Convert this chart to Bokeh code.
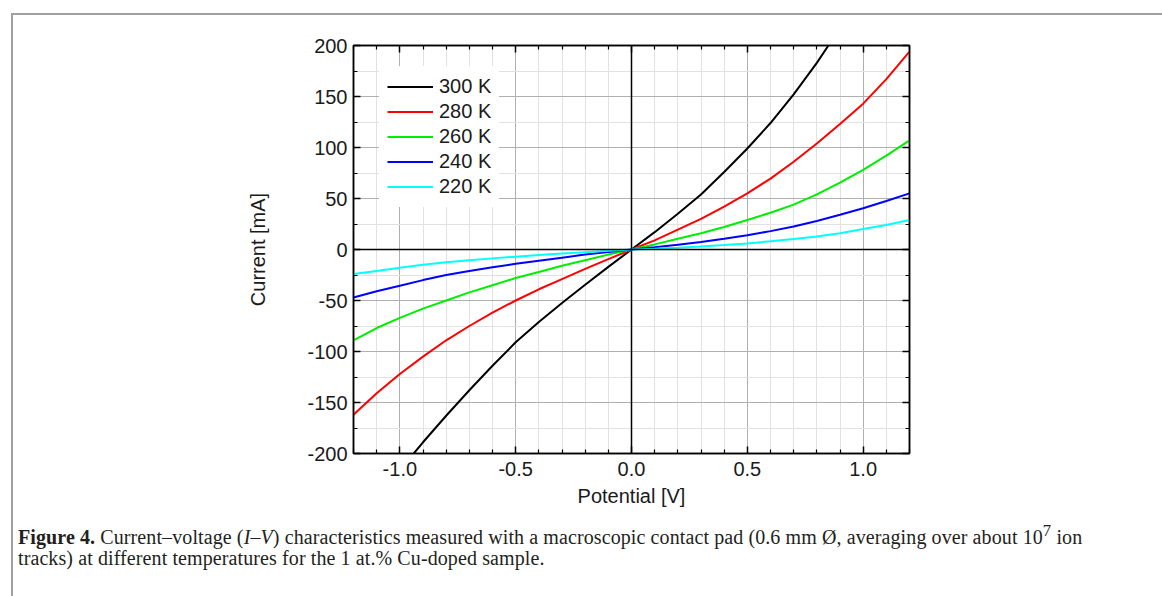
from bokeh.plotting import figure
from bokeh.models import (Range1d, LinearAxis, FixedTicker, Span, Div, Legend, LegendItem,
                          CustomJSTickFormatter)
from bokeh.layouts import column
from bokeh.embed import file_html
from bokeh.resources import INLINE

# ---------------- data ----------------
potential = [-1.2, -1.1, -1.0, -0.9, -0.8, -0.7, -0.6, -0.5, -0.4, -0.3, -0.2, -0.1, 0.0,
             0.1, 0.2, 0.3, 0.4, 0.5, 0.6, 0.7, 0.8, 0.9, 1.0, 1.1, 1.2]
i_280 = [-162, -141, -122, -105, -89, -75, -62, -50, -39, -29, -19, -9.5, 0,
         9, 19.5, 30, 42, 55, 69.5, 86, 104, 123, 143, 167, 194]
i_260 = [-89, -77, -67, -58, -50, -42, -35, -28, -22, -16, -10.5, -5, 0,
         5, 10.5, 16, 22, 29, 36, 44, 54, 65.5, 78, 92, 107]
i_240 = [-47, -41, -35.5, -30, -25, -21, -17.5, -14, -11, -8, -5, -2.5, 0,
         2.3, 4.7, 7.3, 10.5, 14, 18, 22.5, 28, 34, 40.5, 47.5, 55]
i_220 = [-24, -21, -18, -15, -12.5, -10.5, -8.7, -7, -5.5, -4, -2.6, -1.3, 0,
         0.8, 1.8, 3, 4.4, 6, 8, 10.2, 12.8, 16, 20, 24, 29]
potential_300 = [-0.94, -0.9, -0.8, -0.7, -0.6, -0.5, -0.4, -0.3, -0.2, -0.1, 0.0,
                 0.1, 0.2, 0.3, 0.4, 0.5, 0.6, 0.7, 0.8, 0.85]
i_300 = [-200, -189, -163, -138, -114, -91, -71, -52.5, -34.5, -17, 0,
         17, 35, 54, 76, 99, 124, 152, 183, 200]

series_labels = ["300 K", "280 K", "260 K", "240 K", "220 K"]
series_colors = ["#000000", "#ff0000", "#00ee00", "#0000ff", "#00ffff"]

x_major = [-1.0, -0.5, 0.0, 0.5, 1.0]
x_minor = [-1.2, -1.1, -0.9, -0.8, -0.7, -0.6, -0.4, -0.3, -0.2, -0.1,
           0.1, 0.2, 0.3, 0.4, 0.6, 0.7, 0.8, 0.9, 1.1, 1.2]
y_major = [-200, -150, -100, -50, 0, 50, 100, 150, 200]
y_minor = [-175, -125, -75, -25, 25, 75, 125, 175]

x_label = "Potential [V]"
y_label = "Current [mA]"
caption_html = ("<b>Figure 4.</b> Current&ndash;voltage (<i>I</i>&ndash;<i>V</i>) characteristics measured "
                "with a macroscopic contact pad (0.6 mm &Oslash;, averaging over about 10<sup>7</sup> ion<br>"
                "tracks) at different temperatures for the 1 at.% Cu-doped sample.")

FONT = "Liberation Sans"
FS = "20px"

p = figure(width=1149, height=510, output_backend="svg", toolbar_location=None,
           x_range=Range1d(-1.2, 1.2), y_range=Range1d(-200, 200),
           min_border_left=340, min_border_right=253, min_border_top=30, min_border_bottom=72,
           x_axis_label=x_label, y_axis_label=y_label)
p.background_fill_color = "white"
p.border_fill_color = "white"
p.outline_line_color = "black"
p.outline_line_width = 1.5

# grids
for g, maj, mnr in ((p.xgrid[0], x_major, x_minor), (p.ygrid[0], y_major, y_minor)):
    g.ticker = FixedTicker(ticks=maj, minor_ticks=mnr)
    g.grid_line_color = "#b0b0b0"
    g.grid_line_width = 1
    g.minor_grid_line_color = "#e2e2e2"
    g.minor_grid_line_width = 1


def style_axis(ax, ticks, minor, show_labels=True, decimals=0):
    ax.ticker = FixedTicker(ticks=ticks, minor_ticks=minor)
    ax.axis_line_color = "black"
    ax.axis_line_width = 1.5
    ax.major_tick_in = 7
    ax.major_tick_out = 0
    ax.minor_tick_in = 4
    ax.minor_tick_out = 0
    ax.major_tick_line_width = 1.5
    ax.minor_tick_line_width = 1.2
    ax.major_label_text_font = FONT
    ax.major_label_text_font_size = FS
    ax.major_label_text_color = "#1a1a1a"
    ax.axis_label_text_font = FONT
    ax.axis_label_text_font_size = FS
    ax.axis_label_text_font_style = "normal"
    ax.axis_label_text_color = "#1a1a1a"
    if show_labels:
        ax.formatter = CustomJSTickFormatter(code="return tick.toFixed(%d)" % decimals)
    else:
        ax.formatter = CustomJSTickFormatter(code="return ''")
        ax.major_label_standoff = 0


style_axis(p.xaxis[0], x_major, x_minor, decimals=1)
p.xaxis[0].major_label_standoff = 8
p.xaxis[0].axis_label_standoff = 6
style_axis(p.yaxis[0], y_major, y_minor, decimals=0)
p.yaxis[0].major_label_standoff = 6
p.yaxis[0].axis_label_standoff = 35

top_ax = LinearAxis()
style_axis(top_ax, x_major, x_minor, show_labels=False)
p.add_layout(top_ax, "above")
right_ax = LinearAxis()
style_axis(right_ax, y_major, y_minor, show_labels=False)
p.add_layout(right_ax, "right")

# zero lines
p.add_layout(Span(location=0, dimension="height", line_color="black", line_width=1.5))
p.add_layout(Span(location=0, dimension="width", line_color="black", line_width=1.5))

# curves
renderers = []
renderers.append(p.line(potential_300, i_300, line_color=series_colors[0], line_width=2))
for ys, c in zip([i_280, i_260, i_240, i_220], series_colors[1:]):
    renderers.append(p.line(potential, ys, line_color=c, line_width=2))

legend = Legend(items=[LegendItem(label=l, renderers=[r]) for l, r in zip(series_labels, renderers)],
                location=(26, 246))
legend.border_line_alpha = 0
legend.background_fill_color = "white"
legend.background_fill_alpha = 1
legend.padding = 8
legend.margin = 0
legend.spacing = 0
legend.glyph_width = 46
legend.glyph_height = 25
legend.label_height = 25
legend.label_standoff = 6
legend.label_text_font = FONT
legend.label_text_font_size = FS
legend.label_text_color = "#1a1a1a"
p.add_layout(legend)

caption = Div(text=caption_html, width=1149, height=69,
              styles={"font-family": "Liberation Serif", "font-size": "20px", "line-height": "21px",
                      "color": "#231f20", "padding-left": "0px", "padding-top": "0px",
                      "letter-spacing": "0.1px", "white-space": "nowrap",
                      "transform": "translateY(-10px)"})

layout = column(p, caption, margin=(13, 0, 0, 11),
                styles={"border-left": "2px solid #a0a0a0", "border-top": "2px solid #a0a0a0"})

open("out.html", "w").write(file_html(layout, INLINE))
